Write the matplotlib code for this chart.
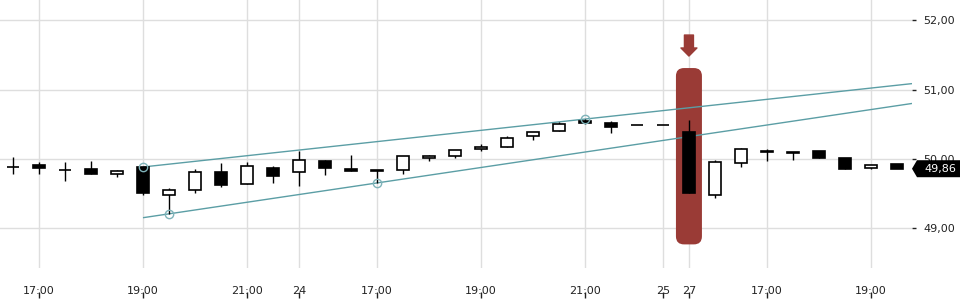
import numpy as np
import matplotlib.pyplot as plt
from matplotlib.patches import FancyBboxPatch, Polygon
from matplotlib.transforms import blended_transform_factory

# ---- 30 min candles ----
opens = [49.89, 49.91, 49.845, 49.86, 49.78, 49.88, 49.48, 49.55, 49.81, 49.64,
         49.87, 49.81, 49.975, 49.86, 49.845, 49.84, 50.01, 50.04, 50.14, 50.17,
         50.33, 50.40, 50.55, 50.515, 50.49, 50.49, 50.385, 49.48, 49.94, 50.115,
         50.10, 50.12, 50.02, 49.87, 49.925]
highs = [50.03, 49.96, 49.955, 49.97, 49.84, 49.89, 49.58, 49.855, 49.945, 49.955,
         49.90, 50.12, 49.99, 50.06, 49.845, 50.04, 50.06, 50.13, 50.22, 50.33,
         50.39, 50.53, 50.58, 50.545, 50.49, 50.49, 50.56, 49.985, 50.155, 50.14,
         50.10, 50.12, 50.02, 49.92, 49.935]
lows = [49.78, 49.78, 49.68, 49.78, 49.735, 49.475, 49.21, 49.51, 49.59, 49.64,
        49.66, 49.605, 49.77, 49.825, 49.655, 49.78, 49.965, 50.01, 50.12, 50.17,
        50.28, 50.40, 50.50, 50.38, 50.49, 50.49, 49.505, 49.445, 49.89, 49.965,
        49.98, 50.01, 49.86, 49.86, 49.87]
closes = [49.89, 49.87, 49.845, 49.78, 49.83, 49.505, 49.56, 49.81, 49.62, 49.90,
          49.76, 49.985, 49.865, 49.825, 49.82, 50.04, 50.04, 50.13, 50.17, 50.30,
          50.385, 50.50, 50.525, 50.465, 50.49, 50.49, 49.505, 49.955, 50.14, 50.095,
          50.08, 50.01, 49.86, 49.91, 49.86]

tick_idx = [1, 5, 9, 11, 14, 18, 22, 25, 26, 29, 33]
tick_labels = ["17:00", "19:00", "21:00", "24", "17:00", "19:00", "21:00",
               "25", "27", "17:00", "19:00"]
price_ticks = [49, 50, 51, 52]
price_labels = ["49,00", "50,00", "51,00", "52,00"]

# trend line anchors (candle index, price)
upper_pts = [(5, 49.885), (22, 50.575)]
lower_pts = [(6, 49.21), (14, 49.655)]
upper_start = 5
lower_start = 5
highlight_idx = 26
highlight_range = (48.77, 51.31)
last_price = 49.86

RED = "#9a3b36"
TEAL = "#5b9ea5"
GRID = "#dedede"

XMIN, XMAX = -0.5, 34.58
YMIN, YMAX = 48.43, 52.29

fig = plt.figure(figsize=(9.6, 3.0), dpi=100)
ax = fig.add_axes([0.0, 1 - 268 / 300, 912 / 960, 268 / 300])
ax.set_xlim(XMIN, XMAX)
ax.set_ylim(YMIN, YMAX)

for s in ax.spines.values():
    s.set_visible(False)

ax.set_xticks(tick_idx)
ax.set_xticklabels(tick_labels)
ax.set_yticks(price_ticks)
ax.set_yticklabels(price_labels)
ax.yaxis.tick_right()
ax.tick_params(axis="x", length=0, pad=13, labelsize=8, labelcolor="#222222")
ax.tick_params(axis="y", length=3, width=1, pad=5, labelsize=8,
               labelcolor="#222222", color="#222222")
ax.grid(True, color=GRID, linewidth=1)
ax.set_axisbelow(True)

# small tick marks under the date labels
sec = ax.secondary_xaxis(-0.112)
sec.set_xticks(tick_idx)
sec.set_xticklabels([""] * len(tick_idx))
sec.tick_params(direction="in", length=4, width=1, color="#222222")
sec.spines["bottom"].set_visible(False)

# highlighted candle
px_x = 912 / (XMAX - XMIN)
px_y = 268 / (YMAX - YMIN)
hl = FancyBboxPatch((highlight_idx - 0.5, highlight_range[0]), 1.0,
                    highlight_range[1] - highlight_range[0],
                    boxstyle="round,pad=0,rounding_size=%.3f" % (8 / px_x),
                    mutation_aspect=px_x / px_y,
                    facecolor=RED, edgecolor="none", zorder=1)
ax.add_patch(hl)
ax.annotate("", xy=(highlight_idx, highlight_range[1] + 12 / px_y),
            xytext=(highlight_idx, highlight_range[1] + 33 / px_y),
            arrowprops=dict(arrowstyle="simple,head_width=11.5,head_length=5.8,tail_width=6.5",
                            mutation_scale=1, color=RED, shrinkA=0, shrinkB=0),
            zorder=2)

# trend lines
def trend(pts, start):
    (x0, y0), (x1, y1) = pts
    k = (y1 - y0) / (x1 - x0)
    xs = np.array([start, XMAX])
    return xs, y0 + k * (xs - x0)

for pts, start in [(upper_pts, upper_start), (lower_pts, lower_start)]:
    xs, ys = trend(pts, start)
    ax.plot(xs, ys, color=TEAL, linewidth=1, zorder=2, solid_capstyle="butt")

# candles
o = np.array(opens)
c = np.array(closes)
h = np.array(highs)
l = np.array(lows)
x = np.arange(len(o))
ax.vlines(x, l, h, color="black", linewidth=1, zorder=3)
up = c >= o
bottom = np.minimum(o, c)
height = np.abs(c - o)
ax.bar(x[up], height[up], bottom=bottom[up], width=0.48,
       facecolor="white", edgecolor="black", linewidth=1.2, zorder=4)
ax.bar(x[~up], height[~up], bottom=bottom[~up], width=0.48,
       facecolor="black", edgecolor="black", linewidth=1.2, zorder=4)

# pivot markers
mk = upper_pts + lower_pts
ax.plot([p[0] for p in mk], [p[1] for p in mk], linestyle="none", marker="o",
        markersize=6, markerfacecolor="none", markeredgecolor="#7fb3b9",
        markeredgewidth=1, zorder=5)

# last price tag
tr = blended_transform_factory(ax.transAxes, ax.transData)
hh = 8.5 / px_y
tip = 1.0
base = 1.0 + 5 / 912
end = 960 / 912
tag = Polygon([(tip, last_price), (base, last_price + hh), (end, last_price + hh),
               (end, last_price - hh), (base, last_price - hh)],
              closed=True, facecolor="black", edgecolor="none",
              transform=tr, clip_on=False, zorder=10)
ax.add_patch(tag)
ax.text(1.0 + 28 / 912, last_price, ("%.2f" % last_price).replace(".", ","),
        transform=tr, ha="center", va="center", color="white", fontsize=8,
        zorder=11, clip_on=False)

fig.savefig("out.png", dpi=100)
